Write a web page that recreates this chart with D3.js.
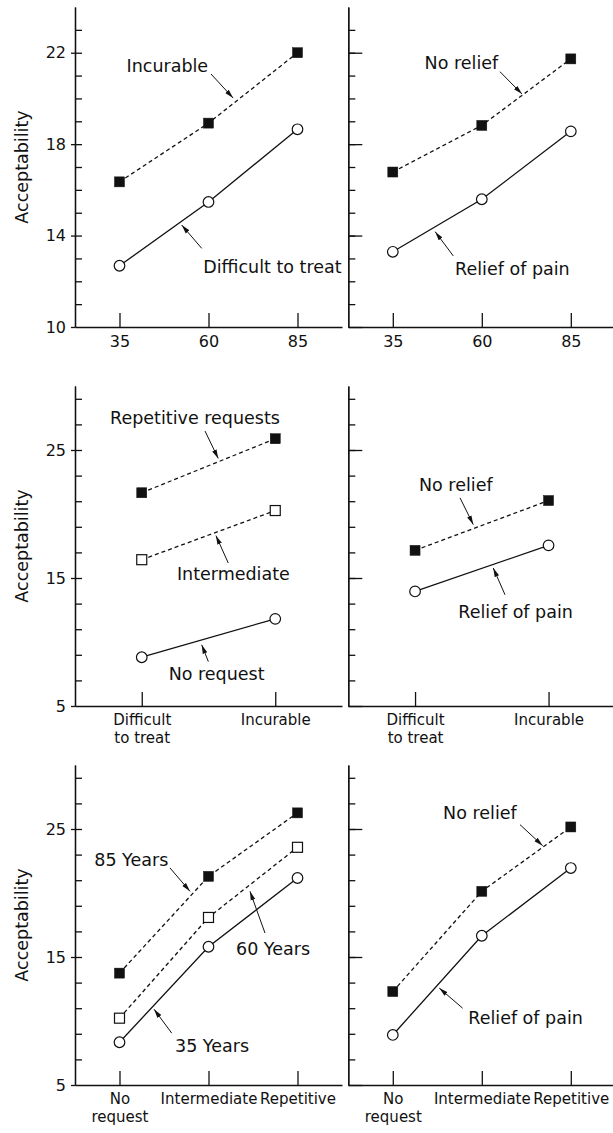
<!DOCTYPE html>
<html>
<head>
<meta charset="utf-8">
<script src="https://cdn.jsdelivr.net/npm/d3@7"></script>
<style>
    body { margin: 0; background: #fff; }
    text { font-family: "DejaVu Sans", sans-serif; font-size: 17.5px; fill: #111; }
    .tick text { font-size: 16px; }
    .cat .tick text { font-size: 15px; }
</style>
</head>
<body>
<script>
// x categories / ticks
var ages = [35, 60, 85];
var prognosis = ["Difficult\nto treat", "Incurable"];
var requests = ["No\nrequest", "Intermediate", "Repetitive"];

// y ticks
var yMajorTop = [10, 14, 18, 22];
var yMajorLower = [5, 15, 25];

// acceptability, age x prognosis
var incurableByAge = [16.35, 18.92, 22.0];
var difficultByAge = [12.68, 15.47, 18.65];
// age x pain relief
var noReliefByAge = [16.78, 18.82, 21.73];
var reliefByAge = [13.29, 15.59, 18.56];
// prognosis x request
var repetitiveByPrognosis = [21.66, 25.88];
var intermediateByPrognosis = [16.43, 20.27];
var noRequestByPrognosis = [8.81, 11.81];
// prognosis x pain relief
var noReliefByPrognosis = [17.16, 21.05];
var reliefByPrognosis = [13.95, 17.55];
// request x age
var years85ByRequest = [13.74, 21.3, 26.26];
var years60ByRequest = [10.22, 18.09, 23.57];
var years35ByRequest = [8.34, 15.8, 21.17];
// request x pain relief
var noReliefByRequest = [12.3, 20.13, 25.16];
var reliefByRequest = [8.91, 16.66, 21.95];

var width = 613;
var height = 1133;
var colLeft = [75, 348.3];
var rowBottom = [327, 706, 1085];
var plotW = 267;
var plotH = 320;

var ageX = {domain: [22.5, 97.5], ticks: ages, labels: ages.map(String), cat: false};
var progX = {domain: [-0.5, 1.5], ticks: [0, 1], labels: prognosis, cat: true};
var reqX = {domain: [-0.5, 2.5], ticks: [0, 1, 2], labels: requests, cat: true};
var topY = {domain: [10, 24], major: yMajorTop, step: 1};
var lowY = {domain: [5, 30], major: yMajorLower, step: 2};

var panels = [
    {row: 0, col: 0, xs: ageX, ys: topY, xv: ages,
     series: [{values: incurableByAge, mark: "filled"}, {values: difficultByAge, mark: "circle"}],
     notes: [
        {text: "Incurable", at: [59.9, 21.15], anchor: "end", from: [60.7, 21.07], to: [66.9, 20.02]},
        {text: "Difficult to treat", at: [58.5, 12.35], anchor: "start", from: [58.1, 13.44], to: [52.47, 14.46]}
     ]},
    {row: 0, col: 1, xs: ageX, ys: topY, xv: ages,
     series: [{values: noReliefByAge, mark: "filled"}, {values: reliefByAge, mark: "circle"}],
     notes: [
        {text: "No relief", at: [64.6, 21.27], anchor: "end", from: [65.1, 21.17], to: [71.3, 20.19]},
        {text: "Relief of pain", at: [52.5, 12.27], anchor: "start", from: [52.0, 13.11], to: [46.9, 14.17]}
     ]},
    {row: 1, col: 0, xs: progX, ys: lowY, xv: [0, 1],
     series: [{values: repetitiveByPrognosis, mark: "filled"}, {values: intermediateByPrognosis, mark: "open"},
              {values: noRequestByPrognosis, mark: "circle"}],
     notes: [
        {text: "Repetitive requests", at: [0.399, 27.0], anchor: "middle", from: [0.474, 26.48], to: [0.573, 24.34]},
        {text: "Intermediate", at: [0.686, 14.87], anchor: "middle", from: [0.648, 16.17], to: [0.556, 18.31]},
        {text: "No request", at: [0.561, 7.04], anchor: "middle", from: [0.499, 8.47], to: [0.449, 9.78]}
     ]},
    {row: 1, col: 1, xs: progX, ys: lowY, xv: [0, 1],
     series: [{values: noReliefByPrognosis, mark: "filled"}, {values: reliefByPrognosis, mark: "circle"}],
     notes: [
        {text: "No relief", at: [0.305, 21.78], anchor: "middle", from: [0.337, 21.26], to: [0.436, 19.17]},
        {text: "Relief of pain", at: [0.324, 11.87], anchor: "start", from: [0.674, 13.69], to: [0.586, 15.78]}
     ]},
    {row: 2, col: 0, xs: reqX, ys: lowY, xv: [0, 1, 2],
     series: [{values: years85ByRequest, mark: "filled"}, {values: years60ByRequest, mark: "open"},
              {values: years35ByRequest, mark: "circle"}],
     notes: [
        {text: "85 Years", at: [0.548, 22.08], anchor: "end", from: [0.567, 21.96], to: [0.792, 20.13]},
        {text: "60 Years", at: [1.309, 15.17], anchor: "start", from: [1.635, 16.87], to: [1.466, 20.13]},
        {text: "35 Years", at: [0.624, 7.61], anchor: "start", from: [0.587, 9.05], to: [0.388, 10.92]}
     ]},
    {row: 2, col: 1, xs: reqX, ys: lowY, xv: [0, 1, 2],
     series: [{values: noReliefByRequest, mark: "filled"}, {values: reliefByRequest, mark: "circle"}],
     notes: [
        {text: "No relief", at: [1.392, 25.79], anchor: "end", from: [1.429, 25.34], to: [1.684, 23.70]},
        {text: "Relief of pain", at: [0.848, 9.77], anchor: "start", from: [0.785, 11.0], to: [0.522, 12.57]}
     ]}
];

var svg = d3.select("body")
    .append("svg")
    .attr("width", width)
    .attr("height", height);

// arrow head for the label pointers
svg.append("defs").append("marker")
    .attr("id", "arrow")
    .attr("markerUnits", "userSpaceOnUse")
    .attr("markerWidth", 10)
    .attr("markerHeight", 6)
    .attr("refX", 9)
    .attr("refY", 3)
    .attr("orient", "auto")
    .append("path")
    .attr("d", "M0,0.6 L9,3 L0,5.4 Z")
    .attr("fill", "#111");

panels.forEach(drawPanel);

function drawPanel(p) {
    var left = colLeft[p.col];
    var bottom = rowBottom[p.row];
    var x = d3.scaleLinear().domain(p.xs.domain).range([left, left + plotW]);
    var y = d3.scaleLinear().domain(p.ys.domain).range([bottom, bottom - plotH]);
    var g = svg.append("g").attr("color", "#111");

    // x axis, ticks pointing up into the plot
    var xa = g.append("g")
        .attr("class", p.xs.cat ? "cat" : null)
        .attr("transform", "translate(0," + bottom + ")")
        .call(d3.axisBottom(x)
            .tickValues(p.xs.ticks)
            .tickSizeInner(-14)
            .tickSizeOuter(0)
            .tickPadding(7)
            .tickFormat(""));
    xa.selectAll(".tick text").each(function(d, i) {
        var t = d3.select(this).attr("dy", null);
        p.xs.labels[i].split("\n").forEach(function(line, k) {
            t.append("tspan").attr("x", 0).attr("dy", k ? "1.2em" : "0.8em").text(line);
        });
    });

    // y axis: minor ticks inward
    var minor = d3.range(p.ys.domain[0] + p.ys.step, p.ys.domain[1], p.ys.step);
    g.append("g")
        .attr("transform", "translate(" + left + ",0)")
        .call(d3.axisRight(y).tickValues(minor).tickSize(7).tickSizeOuter(0).tickFormat(""));

    if (p.col == 0) {
        g.append("g")
            .attr("transform", "translate(" + left + ",0)")
            .call(d3.axisLeft(y).tickValues(p.ys.major).tickSize(4).tickSizeOuter(0).tickPadding(5));
        g.append("text")
            .attr("transform", "translate(28," + (bottom - plotH / 2) + ") rotate(-90)")
            .attr("text-anchor", "middle")
            .text("Acceptability");
    } else {
        g.append("g")
            .attr("transform", "translate(" + left + ",0)")
            .call(d3.axisRight(y).tickValues(p.ys.major).tickSize(14).tickSizeOuter(0).tickFormat(""));
    }
    g.selectAll(".domain, .tick line").attr("stroke-width", 1.3);
    g.selectAll(".tick text").attr("font-size", null).attr("font-family", null);

    // lines
    var line = d3.line()
        .x(function(d, i) { return x(p.xv[i]); })
        .y(function(d) { return y(d); });

    p.series.forEach(function(s) {
        g.append("path")
            .attr("d", line(s.values))
            .attr("fill", "none")
            .attr("stroke", "#111")
            .attr("stroke-width", 1.3)
            .attr("stroke-dasharray", s.mark == "circle" ? null : "4,3");
    });

    // markers on top
    p.series.forEach(function(s) {
        var pts = g.selectAll(null).data(s.values).enter();
        if (s.mark == "circle") {
            pts.append("circle")
                .attr("cx", function(d, i) { return x(p.xv[i]); })
                .attr("cy", function(d) { return y(d); })
                .attr("r", 5.3)
                .attr("fill", "#fff")
                .attr("stroke", "#111")
                .attr("stroke-width", 1.2);
        } else {
            pts.append("rect")
                .attr("x", function(d, i) { return x(p.xv[i]) - 5; })
                .attr("y", function(d) { return y(d) - 5; })
                .attr("width", 10)
                .attr("height", 10)
                .attr("fill", s.mark == "filled" ? "#111" : "#fff")
                .attr("stroke", "#111")
                .attr("stroke-width", s.mark == "filled" ? 0.5 : 1.2);
        }
    });

    // labels with arrows
    p.notes.forEach(function(n) {
        g.append("text")
            .attr("x", x(n.at[0]))
            .attr("y", y(n.at[1]))
            .attr("text-anchor", n.anchor)
            .text(n.text);
        g.append("line")
            .attr("x1", x(n.from[0]))
            .attr("y1", y(n.from[1]))
            .attr("x2", x(n.to[0]))
            .attr("y2", y(n.to[1]))
            .attr("stroke", "#111")
            .attr("stroke-width", 1)
            .attr("marker-end", "url(#arrow)");
    });
}
</script>
</body>
</html>
